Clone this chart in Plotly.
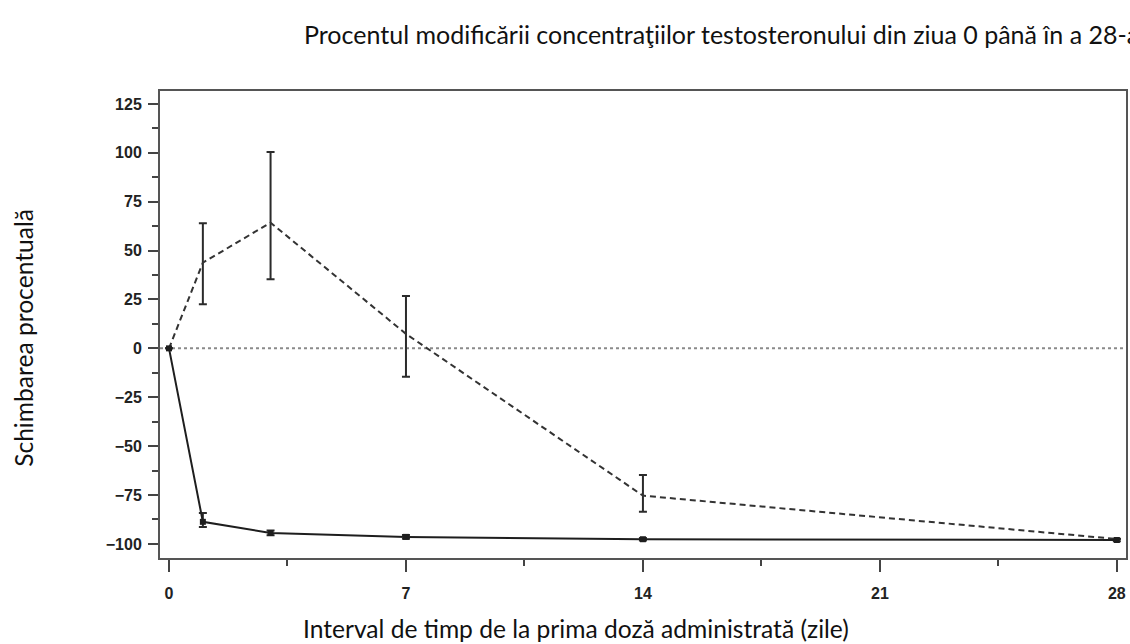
import plotly.graph_objects as go

# ---- data ----
days = [0, 1, 3, 7, 14, 28]

# dashed series (with error bars)
dashed_mean = [0, 43.8, 64.3, 7.4, -75.3, -97.5]
dashed_upper = [0, 64.0, 100.4, 26.8, -64.7, -97.5]
dashed_lower = [0, 22.5, 35.3, -14.5, -83.5, -97.5]

# solid series (with small error bars)
solid_mean = [0, -88.7, -94.4, -96.4, -97.6, -98.0]
solid_upper = [0, -84.2, -93.2, -95.5, -97.0, -97.4]
solid_lower = [0, -91.3, -95.6, -97.3, -98.2, -98.6]

x_ticks = [0, 7, 14, 21, 28]
x_minor = [3.5, 10.5, 17.5, 24.5]
y_ticks = [125, 100, 75, 50, 25, 0, -25, -50, -75, -100]
y_minor = [112.5, 87.5, 62.5, 37.5, 12.5, -12.5, -37.5, -62.5, -87.5]

title_text = "Procentul modificării concentraţiilor testosteronului din ziua 0 până în a 28-a"
x_label = "Interval de timp de la prima doză administrată (zile)"
y_label = "Schimbarea procentuală"

LINE = "#2b2b2b"
FONT = "Lato"

def err(mean, upper, lower):
    plus = [u - m for u, m in zip(upper, mean)]
    minus = [m - l for l, m in zip(lower, mean)]
    return plus, minus

dp, dm = err(dashed_mean, dashed_upper, dashed_lower)
sp, sm = err(solid_mean, solid_upper, solid_lower)

fig = go.Figure()

# zero reference line (dotted)
fig.add_shape(type="line", xref="paper", yref="y", x0=0, x1=1, y0=0, y1=0,
              line=dict(color="#8a8a8a", width=2, dash="dot"), layer="below")

fig.add_trace(go.Scatter(
    x=days, y=dashed_mean, mode="lines",
    line=dict(color="#333333", width=2, dash="6px,4px"),
    error_y=dict(type="data", symmetric=False, array=dp, arrayminus=dm,
                 color=LINE, thickness=2, width=4),
    showlegend=False, hoverinfo="skip"))

fig.add_trace(go.Scatter(
    x=days, y=solid_mean, mode="lines+markers",
    line=dict(color="#1e1e1e", width=2),
    marker=dict(symbol="square", size=6, color="#1e1e1e"),
    error_y=dict(type="data", symmetric=False, array=sp, arrayminus=sm,
                 color=LINE, thickness=2, width=4),
    showlegend=False, hoverinfo="skip"))

tickfont = dict(family="Liberation Sans", size=16, color="#222222", weight="bold")

fig.update_xaxes(
    range=[-0.266, 28.27], tickmode="array", tickvals=x_ticks,
    ticktext=[str(v) for v in x_ticks],
    ticks="outside", ticklen=12, tickwidth=2, tickcolor="#444444",
    minor=dict(tickmode="array", tickvals=x_minor,
               ticks="outside", ticklen=6, tickwidth=2, tickcolor="#444444"),
    showline=True, linewidth=2, linecolor="#555555", mirror=True,
    showgrid=False, zeroline=False, tickfont=tickfont, ticklabelstandoff=8,
    automargin=False)

fig.update_yaxes(
    range=[-107.2, 131.6], tickmode="array", tickvals=y_ticks,
    ticktext=[str(v).replace("-", "\u2212") for v in y_ticks],
    ticks="outside", ticklen=10, tickwidth=2, tickcolor="#444444",
    minor=dict(tickmode="array", tickvals=y_minor,
               ticks="outside", ticklen=6, tickwidth=2, tickcolor="#444444"),
    showline=True, linewidth=2, linecolor="#555555", mirror=True,
    showgrid=False, zeroline=False, tickfont=tickfont, ticklabelstandoff=3,
    automargin=False)

fig.add_annotation(text=title_text, xref="paper", yref="paper",
                   x=0.147, y=1.122, xanchor="left", yanchor="middle",
                   showarrow=False, font=dict(family=FONT, size=25, color="#111111"))
fig.add_annotation(text=x_label, xref="paper", yref="paper",
                   x=0.431, y=-0.15, xanchor="center", yanchor="middle",
                   showarrow=False, font=dict(family=FONT, size=24.6, color="#111111"))
fig.add_annotation(text=y_label, xref="paper", yref="paper",
                   x=-0.142, y=0.471, xanchor="center", yanchor="middle",
                   textangle=-90,
                   showarrow=False, font=dict(family=FONT, size=24.6, color="#111111"))

fig.update_layout(
    width=1130, height=644,
    margin=dict(l=160, r=4, t=91, b=86),
    paper_bgcolor="white", plot_bgcolor="white",
)

# remove the default page margin so the figure fills the window exactly
fig.write_html("out.html",
               config={"displayModeBar": False},
               post_script="document.body.style.margin='0';document.body.style.overflow='hidden';")
